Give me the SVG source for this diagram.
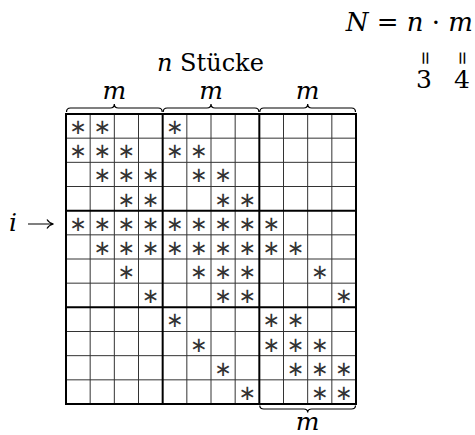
<svg xmlns="http://www.w3.org/2000/svg" width="475" height="435" viewBox="0 0 475 435">
<style>
.thin{stroke:#333;stroke-width:1;fill:none}
.thick{stroke:#000;stroke-width:2;fill:none}
.brace{stroke:#000;stroke-width:1.2;fill:none}
.st{font-family:"DejaVu Sans",sans-serif;font-size:21px;text-anchor:middle;fill:#333}
.mi{font-family:'DejaVu Serif',serif;font-style:italic;font-size:25px;fill:#000}
.rm{font-family:'DejaVu Serif',serif;font-size:25px;fill:#000}
.lg{font-size:26px}
.c{text-anchor:middle}
</style>
<rect width="475" height="435" fill="#fff"/>
<g id="grid">
<path class="thin" d="M90.17,114V404M114.33,114V404M138.5,114V404M186.83,114V404M211,114V404M235.17,114V404M283.5,114V404M307.67,114V404M331.83,114V404M66,138.17H356M66,162.33H356M66,186.5H356M66,234.83H356M66,259H356M66,283.17H356M66,331.5H356M66,355.67H356M66,379.83H356"/>
<path class="thick" d="M66,114H356V404H66ZM162.67,114V404M259.33,114V404M66,210.67H356M66,307.33H356"/>
</g>
<g id="stars">
<text class="st" x="78.08" y="134">∗</text><text class="st" x="102.25" y="134">∗</text><text class="st" x="174.75" y="134">∗</text>
<text class="st" x="78.08" y="158.17">∗</text><text class="st" x="102.25" y="158.17">∗</text><text class="st" x="126.42" y="158.17">∗</text><text class="st" x="174.75" y="158.17">∗</text><text class="st" x="198.92" y="158.17">∗</text>
<text class="st" x="102.25" y="182.33">∗</text><text class="st" x="126.42" y="182.33">∗</text><text class="st" x="150.58" y="182.33">∗</text><text class="st" x="198.92" y="182.33">∗</text><text class="st" x="223.08" y="182.33">∗</text>
<text class="st" x="126.42" y="206.5">∗</text><text class="st" x="150.58" y="206.5">∗</text><text class="st" x="223.08" y="206.5">∗</text><text class="st" x="247.25" y="206.5">∗</text>
<text class="st" x="78.08" y="230.67">∗</text><text class="st" x="102.25" y="230.67">∗</text><text class="st" x="126.42" y="230.67">∗</text><text class="st" x="150.58" y="230.67">∗</text><text class="st" x="174.75" y="230.67">∗</text><text class="st" x="198.92" y="230.67">∗</text><text class="st" x="223.08" y="230.67">∗</text><text class="st" x="247.25" y="230.67">∗</text><text class="st" x="271.42" y="230.67">∗</text>
<text class="st" x="102.25" y="254.83">∗</text><text class="st" x="126.42" y="254.83">∗</text><text class="st" x="150.58" y="254.83">∗</text><text class="st" x="174.75" y="254.83">∗</text><text class="st" x="198.92" y="254.83">∗</text><text class="st" x="223.08" y="254.83">∗</text><text class="st" x="247.25" y="254.83">∗</text><text class="st" x="271.42" y="254.83">∗</text><text class="st" x="295.58" y="254.83">∗</text>
<text class="st" x="126.42" y="279">∗</text><text class="st" x="198.92" y="279">∗</text><text class="st" x="223.08" y="279">∗</text><text class="st" x="247.25" y="279">∗</text><text class="st" x="319.75" y="279">∗</text>
<text class="st" x="150.58" y="303.17">∗</text><text class="st" x="223.08" y="303.17">∗</text><text class="st" x="247.25" y="303.17">∗</text><text class="st" x="343.92" y="303.17">∗</text>
<text class="st" x="174.75" y="327.33">∗</text><text class="st" x="271.42" y="327.33">∗</text><text class="st" x="295.58" y="327.33">∗</text>
<text class="st" x="198.92" y="351.5">∗</text><text class="st" x="271.42" y="351.5">∗</text><text class="st" x="295.58" y="351.5">∗</text><text class="st" x="319.75" y="351.5">∗</text>
<text class="st" x="223.08" y="375.67">∗</text><text class="st" x="295.58" y="375.67">∗</text><text class="st" x="319.75" y="375.67">∗</text><text class="st" x="343.92" y="375.67">∗</text>
<text class="st" x="247.25" y="399.83">∗</text><text class="st" x="319.75" y="399.83">∗</text><text class="st" x="343.92" y="399.83">∗</text>
</g>
<g id="braces">
<path class="brace" d="M66.5,112Q66.5,108 70.5,108L110.3,108Q114.3,108 114.3,104Q114.3,108 118.3,108L158.2,108Q162.2,108 162.2,112"/>
<path class="brace" d="M163.2,112Q163.2,108 167.2,108L207,108Q211,108 211,104Q211,108 215,108L254.9,108Q258.9,108 258.9,112"/>
<path class="brace" d="M259.8,112Q259.8,108 263.8,108L303.7,108Q307.7,108 307.7,104Q307.7,108 311.7,108L351.5,108Q355.5,108 355.5,112"/>
<path class="brace" d="M259.8,405.5Q259.8,409 263.8,409L303.7,409Q307.7,409 307.7,412.5Q307.7,409 311.7,409L351.5,409Q355.5,409 355.5,405.5"/>
</g>
<g id="labels">
<text x="157" y="71" class="rm" style="font-size:24px"><tspan class="mi" style="font-size:24px">n</tspan> Stücke</text>
<text x="114.3" y="99" class="mi c">m</text>
<text x="211" y="99" class="mi c">m</text>
<text x="307.7" y="99" class="mi c">m</text>
<text x="307.7" y="430" class="mi c">m</text>
<text x="13" y="231" class="mi c">i</text>
<path d="M28,224H53M47,219.5Q49,223 53.5,224Q49,225 47,228.5" stroke="#000" stroke-width="1.2" fill="none"/>
<text x="473" y="31" class="rm lg" text-anchor="end"><tspan class="mi lg">N</tspan> = <tspan class="mi lg">n</tspan> · <tspan class="mi lg">m</tspan></text>
<text class="rm c" style="font-size:18px" transform="translate(425,58) rotate(90)" dominant-baseline="central">=</text>
<text class="rm c" style="font-size:18px" transform="translate(462,58) rotate(90)" dominant-baseline="central">=</text>
<text x="424" y="88" class="rm c">3</text>
<text x="462" y="88" class="rm c">4</text>
</g>
</svg>
